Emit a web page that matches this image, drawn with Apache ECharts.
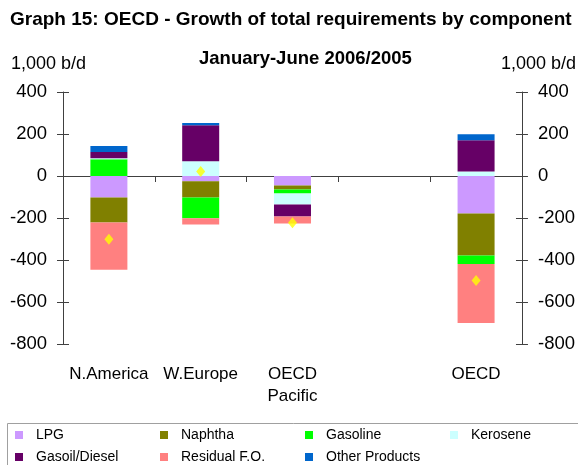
<!DOCTYPE html>
<html>
<head>
    <meta charset="UTF-8">
    <title>OECD - Growth of total requirements by component</title>
    <script src="https://cdn.jsdelivr.net/npm/echarts@6.0.0/dist/echarts.min.js"></script>
</head>
<body style="margin: 0; background-color: white;">
<div id="chart" style="width: 578px; height: 465px;"></div>

<script>
    // data (1,000 b/d)
    const categories = ['N.America', 'W.Europe', 'OECD\nPacific', '', 'OECD'];
    const lpg = [-102, -25, -45, null, -178];
    const naphtha = [-120, -77, -19, null, -200];
    const gasoline = [80, -99, -19, null, -41];
    const kerosene = [5, 70, -53, null, 22];
    const gasoil = [29, 172, -57, null, 148];
    const residual = [-225, -30, -33, null, -281];
    const otherProducts = [29, 10, 0, null, 29];
    const totals = [-301, 22, -223, null, -498];
    const yTicks = [400, 200, 0, -200, -400, -600, -800];

    const components = [
        { name: 'LPG', data: lpg, color: '#CC99FF' },
        { name: 'Naphtha', data: naphtha, color: '#808000' },
        { name: 'Gasoline', data: gasoline, color: '#00FF00' },
        { name: 'Kerosene', data: kerosene, color: '#CCFFFF' },
        { name: 'Gasoil/Diesel', data: gasoil, color: '#660066' },
        { name: 'Residual F.O.', data: residual, color: '#FF8080' },
        { name: 'Other Products', data: otherProducts, color: '#0066CC' }
    ];

    const font = 'Liberation Sans, Arial, sans-serif';
    const axisColor = '#404040';
    const yMin = yTicks[yTicks.length - 1];
    const yMax = yTicks[0];

    // legend: one component per item, 4 columns x 2 rows
    const legendCols = [15, 160, 305, 450];
    const legendRows = [428, 450];
    const legends = components.map((c, i) => ({
        data: [c.name],
        left: legendCols[i % 4],
        top: legendRows[Math.floor(i / 4)],
        padding: 0,
        icon: 'rect',
        itemWidth: 8,
        itemHeight: 8,
        selectedMode: false,
        textStyle: { fontFamily: font, fontSize: 14, color: '#000', padding: [0, 0, 0, 8] }
    }));

    function yAxis(position, showLabel, inside) {
        return {
            type: 'value',
            position: position,
            min: yMin,
            max: yMax,
            interval: 200,
            splitLine: { show: false },
            axisLine: { show: showLabel, lineStyle: { color: axisColor } },
            axisTick: { show: true, inside: inside, length: 6, lineStyle: { color: axisColor } },
            axisLabel: {
                show: showLabel,
                margin: 16,
                fontFamily: font,
                fontSize: 18.5,
                color: '#000'
            }
        };
    }

    const series = components.map(c => ({
        name: c.name,
        type: 'bar',
        stack: 'total',
        barWidth: 37,
        data: c.data,
        itemStyle: { color: c.color }
    }));
    series.push({
        name: 'Total',
        type: 'scatter',
        symbol: 'diamond',
        symbolSize: [9, 11],
        data: totals,
        itemStyle: { color: '#FFFF00' },
        z: 5
    });

    const myChart = echarts.init(document.getElementById('chart'));
    myChart.setOption({
        animation: false,
        title: [
            {
                text: 'Graph 15: OECD - Growth of total requirements by component',
                left: 10, top: 10, padding: 0,
                textStyle: { fontFamily: font, fontSize: 19, fontWeight: 'bold', color: '#000' }
            },
            {
                text: 'January-June 2006/2005',
                left: 199, top: 49, padding: 0,
                textStyle: { fontFamily: font, fontSize: 18.5, fontWeight: 'bold', color: '#000' }
            },
            {
                text: '1,000 b/d',
                left: 11, top: 55, padding: 0,
                textStyle: { fontFamily: font, fontSize: 18, fontWeight: 'normal', color: '#000' }
            },
            {
                text: '1,000 b/d',
                left: 501, top: 55, padding: 0,
                textStyle: { fontFamily: font, fontSize: 18, fontWeight: 'normal', color: '#000' }
            }
        ],
        legend: legends,
        grid: { left: 63, right: 54, top: 92, bottom: 121 },
        xAxis: [
            {
                type: 'category',
                data: categories,
                axisLine: { onZero: true, lineStyle: { color: axisColor } },
                axisTick: { show: true, length: 6, lineStyle: { color: axisColor } },
                axisLabel: { show: false }
            },
            {
                type: 'category',
                data: categories,
                position: 'bottom',
                axisLine: { show: false, onZero: false },
                axisTick: { show: false },
                axisLabel: {
                    margin: 19,
                    interval: 0,
                    fontFamily: font,
                    fontSize: 17,
                    lineHeight: 22,
                    color: '#000'
                }
            }
        ],
        yAxis: [
            yAxis('left', true, false),
            yAxis('right', true, false),
            yAxis('left', false, true),
            yAxis('right', false, true)
        ],
        series: series,
        graphic: [
            {
                type: 'rect',
                shape: { x: 7.5, y: 423.5, width: 600, height: 60 },
                style: { fill: 'none', stroke: '#A0A0A0', lineWidth: 1 },
                silent: true
            }
        ]
    });
</script>
</body>
</html>
